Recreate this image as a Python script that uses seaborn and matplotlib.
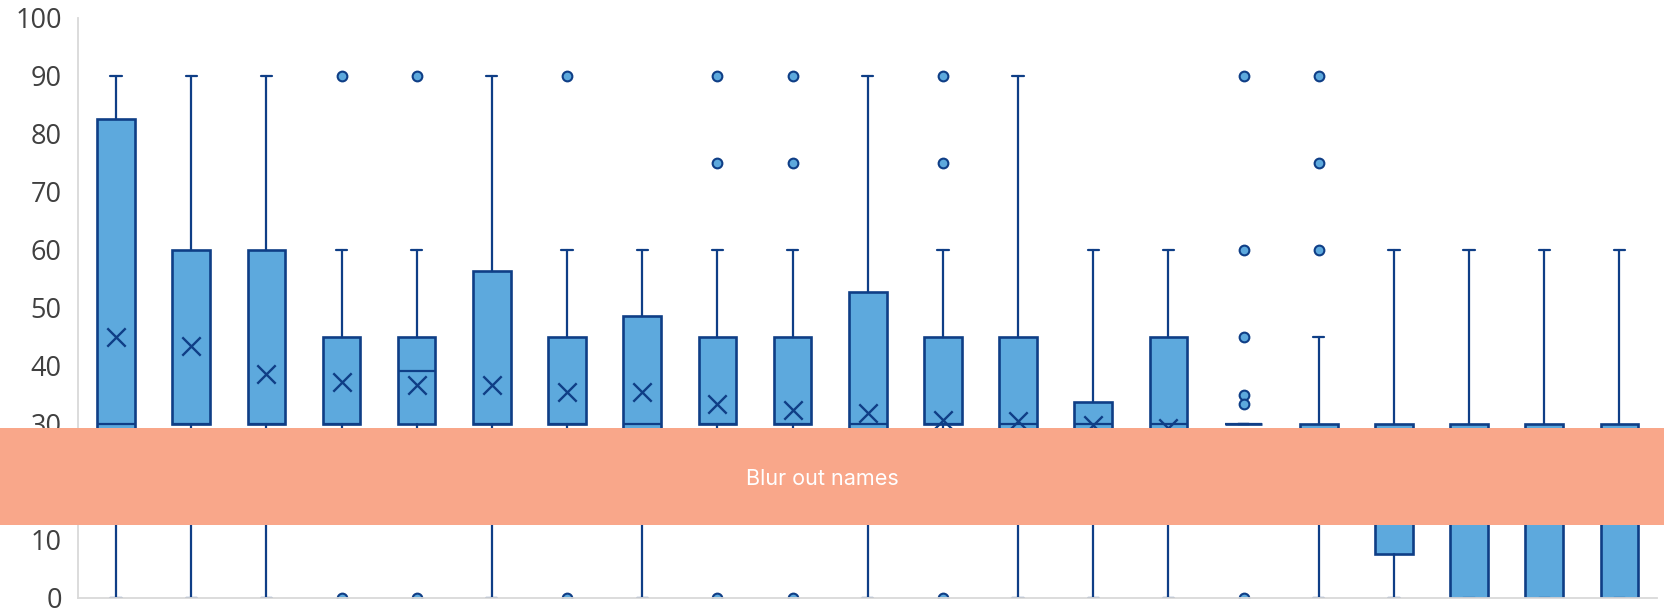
import numpy as np
import matplotlib
matplotlib.use("Agg")
import matplotlib.pyplot as plt
from matplotlib.patches import Rectangle
import seaborn as sns

# Category labels (the names are covered on the chart)
categories = ["A", "B", "C", "D", "E", "F", "G", "H", "I", "J", "K",
              "L", "M", "N", "O", "P", "Q", "R", "S", "T", "U"]

# Five-number summaries per category
q1 = [15, 30, 30, 30, 30, 30, 30, 15, 30, 30, 15,
      30, 15, 15, 15, 30, 15, 7.5, 0, 0, 0]
medians = [30, 30, 30, 30, 39, 30, 30, 30, 30, 30, 30,
           30, 30, 30, 30, 30, 20, 15, 15, 15, 15]
q3 = [82.5, 60, 60, 45, 45, 56.3, 45, 48.6, 45, 45, 52.7,
      45, 45, 33.7, 45, 30, 30, 30, 30, 30, 30]
whisker_low = [0, 0, 0, 15, 15, 0, 15, 0, 15, 15, 0,
               15, 0, 0, 0, 30, 0, 0, 0, 0, 0]
whisker_high = [90, 90, 90, 60, 60, 90, 60, 60, 60, 60, 90,
                60, 90, 60, 60, 30, 45, 60, 60, 60, 60]
means = [45, 43.3, 38.6, 37.2, 36.6, 36.6, 35.4, 35.4, 33.4, 32.4, 31.8,
         30.6, 30.5, 29.8, 29.2, 27, 25, 22, 18, 18, 18]
outliers = [[], [], [], [90, 0], [90, 0], [], [90, 0], [], [90, 75, 0],
            [90, 75, 0], [], [90, 75, 0], [], [], [],
            [90, 60, 45, 35, 33.3, 0], [90, 75, 60], [], [], [], []]

y_ticks = [0, 10, 20, 30, 40, 50, 60, 70, 80, 90, 100]

FILL = "#5DA9DD"
EDGE = "#0F3E86"
AXIS_GREY = "#D9D9D9"
TEXT_GREY = "#404040"

sns.set_theme(style="white")
plt.rcParams["font.family"] = ["Open Sans", "DejaVu Sans"]

fig = plt.figure(figsize=(16.65, 6.10), dpi=100)
ax = fig.add_axes([0.0471, 0.0202, 0.9481, 0.9511])

stats = []
for i, name in enumerate(categories):
    stats.append(dict(label=name, q1=q1[i], med=medians[i], q3=q3[i],
                      whislo=whisker_low[i], whishi=whisker_high[i],
                      mean=means[i], fliers=np.array(outliers[i], dtype=float)))

positions = np.arange(len(categories))
ax.bxp(stats, positions=positions, widths=0.5, capwidths=0.15,
       patch_artist=True, showmeans=False, showfliers=True,
       boxprops=dict(facecolor=FILL, edgecolor=EDGE, linewidth=1.9),
       medianprops=dict(color=EDGE, linewidth=1.6),
       whiskerprops=dict(color=EDGE, linewidth=1.6),
       capprops=dict(color=EDGE, linewidth=1.6),
       flierprops=dict(marker="o", markerfacecolor=FILL, markeredgecolor=EDGE,
                       markersize=7, markeredgewidth=1.5, linestyle="none"))

# Mean markers
sns.scatterplot(x=positions, y=means, marker="x", s=175, color=EDGE,
                linewidth=1.7, ax=ax, zorder=4, legend=False)

ax.set_xlim(-0.5, len(categories) - 0.5)
ax.set_ylim(0, 100)
ax.set_yticks(y_ticks)
ax.set_yticklabels([str(t) for t in y_ticks])
ax.set_xticks(positions)
ax.set_xticklabels([])
ax.tick_params(axis="y", length=0, pad=12, labelsize=19.5, labelcolor=TEXT_GREY)
ax.tick_params(axis="x", length=0)
ax.set_xlabel("")
ax.set_ylabel("")
for side in ("top", "right"):
    ax.spines[side].set_visible(False)
for side in ("left", "bottom"):
    ax.spines[side].set_color(AXIS_GREY)
    ax.spines[side].set_linewidth(1.3)
    ax.spines[side].set_zorder(5)
ax.grid(False)

# Redaction band across the label area
fig.add_artist(Rectangle((0, 0.140), 1, 0.158, transform=fig.transFigure,
                         facecolor="#F9A78A", edgecolor="none", zorder=10))
fig.text(0.494, 0.2148, "Blur out names", color="white", fontsize=15.5,
         family=["Inter", "DejaVu Sans"], ha="center", va="center", zorder=11)

fig.savefig("out.png", dpi=100)
